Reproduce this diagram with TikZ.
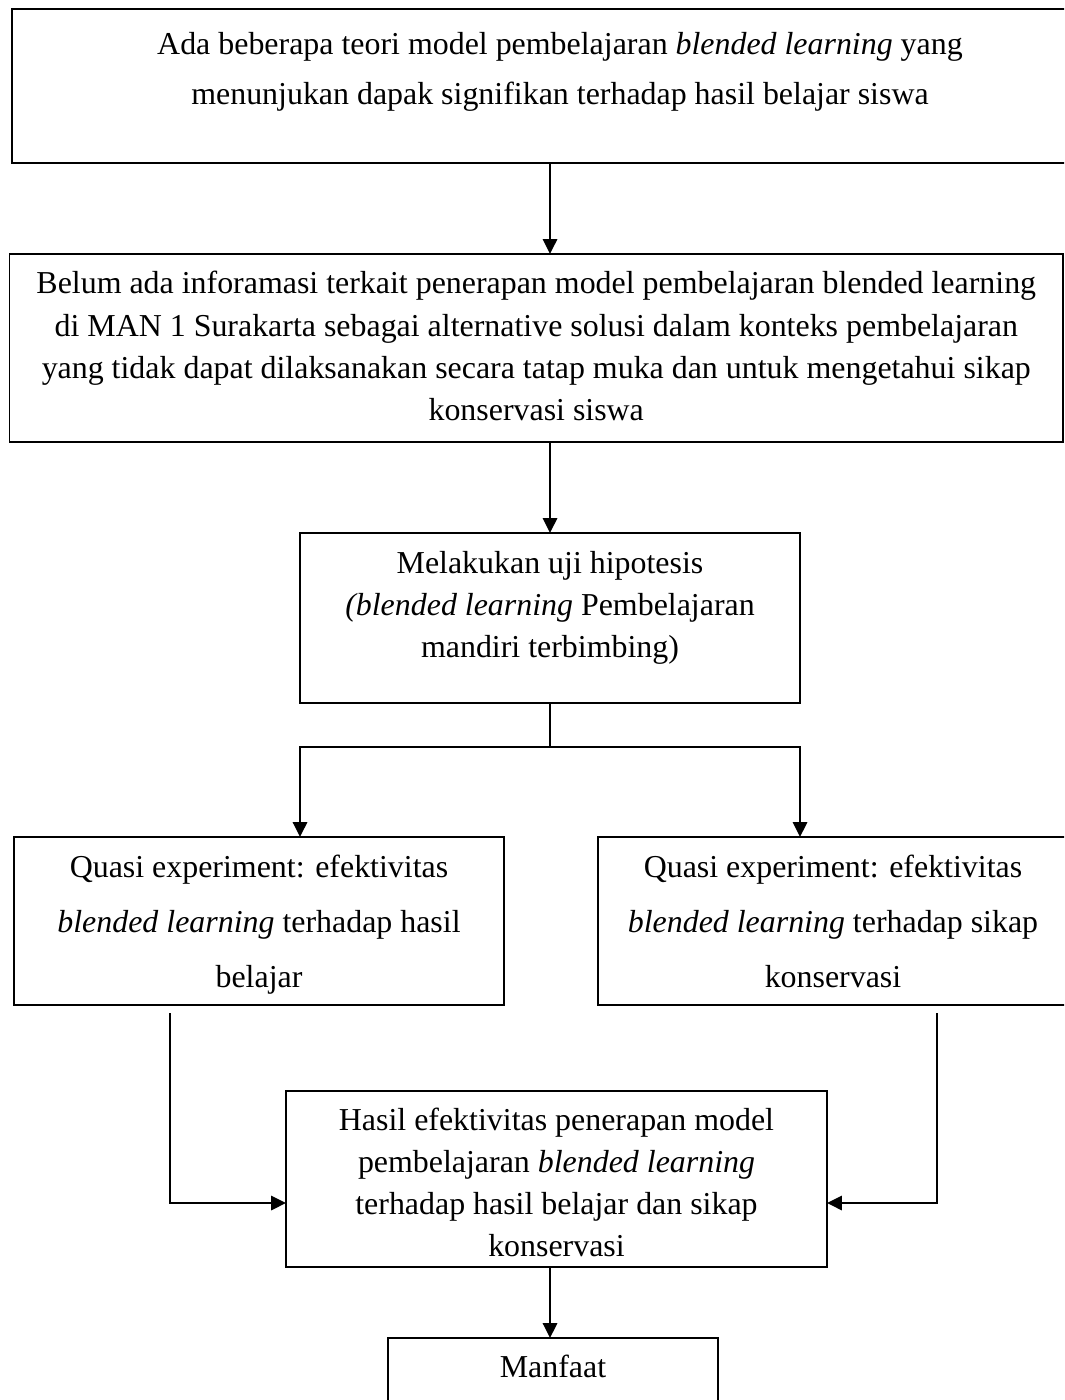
\documentclass[tikz,border=0pt]{standalone}
\usepackage{fontspec}
\setmainfont{Liberation Serif}
\usetikzlibrary{arrows.meta,calc}
\newlength\pxu
\setlength\pxu{0.376pt}
\newcommand{\boxtxt}[5]{\parbox[c][#2\pxu][t]{#1\pxu}{\centering\fontsize{12pt}{#4\pxu}\selectfont\rule{0pt}{#3\pxu}#5\par}}
\begin{document}
\begin{tikzpicture}[x=0.376pt,y=-0.376pt,
  box/.style={draw, line width=0.75pt, inner sep=0pt, outer sep=0pt},
  link/.style={line width=0.75pt},
  arr/.style={link, -{Triangle[length=5.6pt,width=5.4pt]}}]
\useasboundingbox (0,0) rectangle (1064,1400);
\clip (0,0) rectangle (1064,1400);
\node[box] (b1) at (560,86) {\boxtxt{1096}{154}{46}{50}{Ada beberapa teori model pembelajaran \textit{blended learning} yang\\menunjukan dapak signifikan terhadap hasil belajar siswa}};
\node[box] (b2) at (536.25,348) {\boxtxt{1053.5}{188}{40}{42.3}{Belum ada inforamasi terkait penerapan model pembelajaran blended learning\\di MAN 1 Surakarta sebagai alternative solusi dalam konteks pembelajaran\\yang tidak dapat dilaksanakan secara tatap muka dan untuk mengetahui sikap\\konservasi siswa}};
\node[box] (b3) at (550,618) {\boxtxt{500}{170}{40}{42}{Melakukan uji hipotesis\\\textit{(blended learning} Pembelajaran\\mandiri terbimbing)}};
\node[box] (b4) at (259,921) {\boxtxt{490}{168}{40}{55}{Quasi experiment: efektivitas\\\textit{blended learning} terhadap hasil\\belajar}};
\node[box] (b5) at (833,921) {\boxtxt{470}{168}{40}{55}{Quasi experiment: efektivitas\\\textit{blended learning} terhadap sikap\\konservasi}};
\node[box] (b6) at (556.5,1179) {\boxtxt{541}{176}{39}{42.3}{Hasil efektivitas penerapan model\\pembelajaran \textit{blended learning}\\terhadap hasil belajar dan sikap\\konservasi}};
\node[box] (b7) at (553,1384) {\boxtxt{330}{92}{39}{42}{Manfaat}};
\coordinate (br) at (550,747);
\coordinate (s4) at (170,1013);
\coordinate (s5) at (937,1013);
\coordinate (yin) at (0,1203);
\draw[arr] (b1.south -| br) -- (b2.north -| br);
\draw[arr] (b2.south -| br) -- (b3.north -| br);
\draw[link] (b3.south -| br) -- (br);
\draw[arr] (br) -| (b4.north -| b3.west);
\draw[arr] (br) -| (b5.north -| b3.east);
\draw[arr] (s4) |- (yin -| b6.west);
\draw[arr] (s5) |- (yin -| b6.east);
\draw[arr] (b6.south -| br) -- (b7.north -| br);
\end{tikzpicture}
\end{document}
